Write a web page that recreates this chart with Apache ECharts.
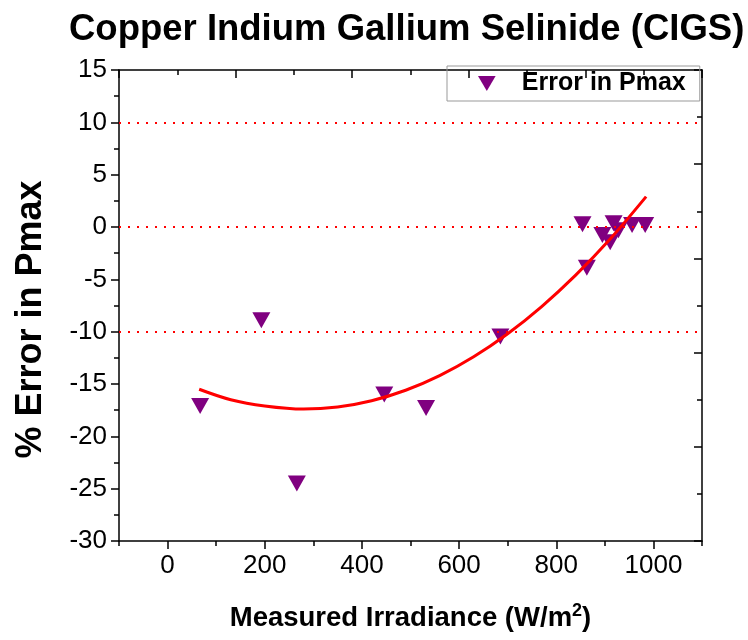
<!DOCTYPE html>
<html>
<head>
<meta charset="utf-8">
<script src="https://cdn.jsdelivr.net/npm/echarts@6/dist/echarts.min.js"></script>
<style>html,body{margin:0;padding:0;background:#fff}#c{width:748px;height:640px}</style>
</head>
<body>
<div id="c"></div>
<script>
// measured points
const irradiance = [67, 193, 266, 446, 532, 685, 854, 863, 895, 911, 918, 928, 956, 983];
const errorPct = [-17.1, -8.9, -24.5, -16.0, -17.3, -10.45, 0.26, -3.9, -0.76, -1.46, 0.35, -0.3, 0.2, 0.2];
// fitted curve
const fitX = [65, 130, 200, 280, 350, 420, 490, 560, 630, 700, 770, 840, 910, 985];
const fitY = [-15.5, -16.5, -17.1, -17.4, -17.2, -16.6, -15.6, -14.2, -12.4, -10.2, -7.6, -4.6, -1.2, 2.9];
// reference lines
const refLines = [10, 0, -10];
// tick labels
const xTickLabels = [0, 200, 400, 600, 800, 1000];
const xMinorTicks = [-100, 100, 300, 500, 700, 900, 1100];

const FONT = '"Liberation Sans", Arial, sans-serif';
const chart = echarts.init(document.getElementById('c'));
const axisLine = { show: true, onZero: false, lineStyle: { color: '#000', width: 1.5 } };
const tickStyle = { color: '#000', width: 1.5 };

chart.setOption({
  animation: false,
  backgroundColor: '#fff',
  title: {
    text: 'Copper Indium Gallium Selinide (CIGS)',
    left: 64, top: 6,
    textStyle: { fontFamily: FONT, fontSize: 36.5, fontWeight: 'bold', color: '#000' }
  },
  legend: {
    left: 447, top: 66,
    data: ['Error in Pmax'],
    icon: 'path://M0,0 L20,0 L10,17 Z',
    itemWidth: 18, itemHeight: 15,
    padding: [5, 14, 5, 31],
    borderColor: '#999', borderWidth: 1,
    textStyle: { fontFamily: FONT, fontSize: 25, fontWeight: 'bold', color: '#000', padding: [0, 0, 0, 21] }
  },
  grid: { left: 119, right: 46, top: 70, bottom: 99 },
  xAxis: [
    {
      type: 'value', position: 'bottom', min: -100, max: 1100, interval: 100,
      axisLine,
      axisTick: { show: true, length: 8, customValues: xTickLabels, lineStyle: tickStyle },
      axisLabel: { show: true, customValues: xTickLabels, formatter: v => String(v), fontFamily: FONT, fontSize: 26, color: '#000', margin: 12 },
      splitLine: { show: false },
      name: '{a|Measured Irradiance (W/m}{s|2}{a|)}',
      nameLocation: 'middle', nameGap: 61,
      nameTextStyle: {
        rich: {
          a: { fontFamily: FONT, fontSize: 27.5, fontWeight: 'bold', color: '#000' },
          s: { fontFamily: FONT, fontSize: 18, fontWeight: 'bold', color: '#000', padding: [0, 0, 15, 0] }
        }
      }
    },
    {
      type: 'value', position: 'bottom', min: -100, max: 1100, interval: 100,
      axisLine: { show: false, onZero: false },
      axisTick: { show: true, length: 5, customValues: xMinorTicks, lineStyle: tickStyle },
      axisLabel: { show: false },
      splitLine: { show: false }
    },
    {
      type: 'value', position: 'top', min: -100, max: 1100, interval: 240,
      axisLine,
      axisTick: { show: true, inside: true, length: 8, lineStyle: tickStyle },
      minorTick: { show: true, splitNumber: 2, length: 5, lineStyle: tickStyle },
      axisLabel: { show: false },
      splitLine: { show: false }
    }
  ],
  yAxis: [
    {
      type: 'value', position: 'left', min: -30, max: 15, interval: 5,
      axisLine,
      axisTick: { show: true, length: 8, lineStyle: tickStyle },
      minorTick: { show: true, splitNumber: 2, length: 5, lineStyle: tickStyle },
      axisLabel: { fontFamily: FONT, fontSize: 26, color: '#000', margin: 12 },
      splitLine: { show: false },
      name: '% Error in Pmax', nameLocation: 'middle', nameGap: 70,
      nameTextStyle: { fontFamily: FONT, fontSize: 36, fontWeight: 'bold', color: '#000', padding: [0, 28, 0, 0] }
    },
    {
      type: 'value', position: 'right', min: -30, max: 15, interval: 9,
      axisLine,
      axisTick: { show: true, inside: true, length: 8, lineStyle: tickStyle },
      minorTick: { show: true, splitNumber: 2, length: 5, lineStyle: tickStyle },
      axisLabel: { show: false },
      splitLine: { show: false }
    }
  ],
  series: [
    {
      name: 'fit', type: 'line', xAxisIndex: 0, yAxisIndex: 0,
      data: fitX.map((x, i) => [x, fitY[i]]),
      smooth: 0.35, showSymbol: false, symbol: 'none',
      lineStyle: { color: '#ff0000', width: 3 },
      z: 3
    },
    {
      name: 'Error in Pmax', type: 'scatter', xAxisIndex: 0, yAxisIndex: 0,
      data: irradiance.map((x, i) => [x, errorPct[i]]),
      symbol: 'triangle', symbolRotate: 180, symbolSize: [18, 16],
      itemStyle: { color: '#800080', opacity: 1 },
      z: 2,
      markLine: {
        silent: true, symbol: 'none', label: { show: false },
        lineStyle: { color: '#ff0000', type: [2, 7], width: 2 },
        data: refLines.map(v => ({ yAxis: v }))
      }
    }
  ]
});
</script>
</body>
</html>
